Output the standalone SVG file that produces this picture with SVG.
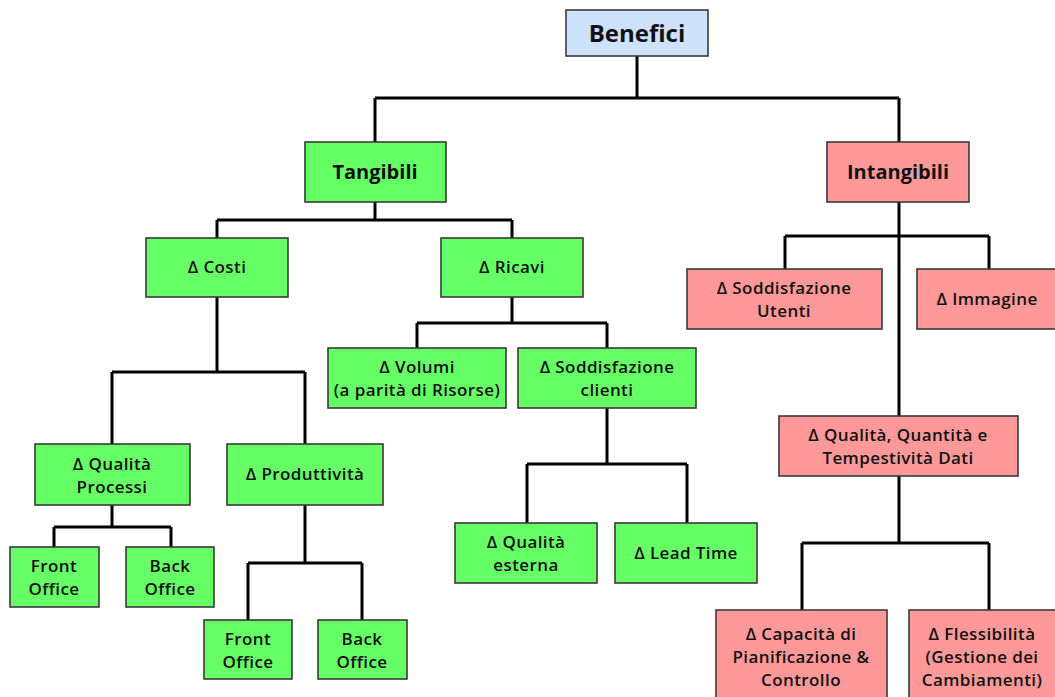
<svg xmlns="http://www.w3.org/2000/svg" width="1055" height="697" viewBox="0 0 1055 697">
  <style>
    .box { stroke: #3a3a3a; stroke-width: 1.6; }
    .root { fill: #cfe2fc; }
    .tan { fill: #66ff66; }
    .int { fill: #ff9999; }
    text { font-family: "Open Sans", "DejaVu Sans", sans-serif; font-weight: 600; fill: #111; text-anchor: middle; font-size: 17px; letter-spacing: 0.4px; }
    .big { font-size: 24px; font-weight: 700; letter-spacing: 0; }
    .mid { font-size: 20px; font-weight: 700; letter-spacing: 0; }
    .links { fill: none; stroke: #000; stroke-width: 3; stroke-linejoin: miter; }
  </style>
  <rect width="1055" height="697" fill="#ffffff"/>

  <!-- connectors -->
  <g id="connectors" class="links">
    <path d="M637 56 V98 M375 98 H899 M375 98 V142 M899 98 V142"/>
    <path d="M375 202 V220 M217 220 H512 M217 220 V238 M512 220 V238"/>
    <path d="M217 297 V372 M112 372 H305 M112 372 V444 M305 372 V444"/>
    <path d="M112 505 V527 M54 527 H171 M54 527 V547 M171 527 V547"/>
    <path d="M305 505 V563 M248 563 H362 M248 563 V620 M362 563 V620"/>
    <path d="M512 297 V323 M417 323 H607 M417 323 V348 M607 323 V348"/>
    <path d="M607 408 V464 M527 464 H687 M527 464 V523 M687 464 V523"/>
    <path d="M899 202 V416 M785 236 H989 M785 236 V269 M989 236 V269"/>
    <path d="M899 476 V543 M802 543 H989 M802 543 V610 M989 543 V610"/>
  </g>

  <g id="benefici">
    <rect class="box root" x="566" y="10" width="142" height="46"/>
    <text class="big" x="637" y="42">Benefici</text>
  </g>

  <g id="tangibili">
    <rect class="box tan" x="305" y="142" width="141" height="60"/>
    <text class="mid" x="375" y="179">Tangibili</text>
  </g>

  <g id="intangibili">
    <rect class="box int" x="827" y="142" width="142" height="60"/>
    <text class="mid" x="898" y="179">Intangibili</text>
  </g>

  <g id="costi">
    <rect class="box tan" x="146" y="238" width="142" height="59"/>
    <text x="217" y="273">Δ Costi</text>
  </g>

  <g id="ricavi">
    <rect class="box tan" x="441" y="238" width="142" height="59"/>
    <text x="512" y="273">Δ Ricavi</text>
  </g>

  <g id="qualita-processi">
    <rect class="box tan" x="35" y="444" width="155" height="61"/>
    <text x="112" y="470">Δ Qualità</text>
    <text x="112" y="493">Processi</text>
  </g>

  <g id="produttivita">
    <rect class="box tan" x="227" y="444" width="156" height="61"/>
    <text x="305" y="480">Δ Produttività</text>
  </g>

  <g id="front-office-1">
    <rect class="box tan" x="10" y="547" width="89" height="60"/>
    <text x="54" y="572">Front</text>
    <text x="54" y="595">Office</text>
  </g>

  <g id="back-office-1">
    <rect class="box tan" x="126" y="547" width="88" height="60"/>
    <text x="170" y="572">Back</text>
    <text x="170" y="595">Office</text>
  </g>

  <g id="front-office-2">
    <rect class="box tan" x="204" y="620" width="88" height="59"/>
    <text x="248" y="645">Front</text>
    <text x="248" y="668">Office</text>
  </g>

  <g id="back-office-2">
    <rect class="box tan" x="318" y="620" width="89" height="59"/>
    <text x="362" y="645">Back</text>
    <text x="362" y="668">Office</text>
  </g>

  <g id="volumi">
    <rect class="box tan" x="328" y="348" width="178" height="60"/>
    <text x="417" y="373">Δ Volumi</text>
    <text x="417" y="396">(a parità di Risorse)</text>
  </g>

  <g id="soddisfazione-clienti">
    <rect class="box tan" x="518" y="348" width="178" height="60"/>
    <text x="607" y="373">Δ Soddisfazione</text>
    <text x="607" y="396">clienti</text>
  </g>

  <g id="qualita-esterna">
    <rect class="box tan" x="455" y="523" width="142" height="60"/>
    <text x="526" y="548">Δ Qualità</text>
    <text x="526" y="571">esterna</text>
  </g>

  <g id="lead-time">
    <rect class="box tan" x="615" y="523" width="142" height="60"/>
    <text x="686" y="559">Δ Lead Time</text>
  </g>

  <g id="soddisfazione-utenti">
    <rect class="box int" x="687" y="269" width="195" height="60"/>
    <text x="784" y="294">Δ Soddisfazione</text>
    <text x="784" y="317">Utenti</text>
  </g>

  <g id="immagine">
    <rect class="box int" x="917" y="269" width="140" height="60"/>
    <text x="987" y="305">Δ Immagine</text>
  </g>

  <g id="qualita-dati">
    <rect class="box int" x="779" y="416" width="239" height="60"/>
    <text x="898" y="441">Δ Qualità, Quantità e</text>
    <text x="898" y="464">Tempestività Dati</text>
  </g>

  <g id="capacita">
    <rect class="box int" x="716" y="610" width="171" height="95"/>
    <text x="801" y="640">Δ Capacità di</text>
    <text x="801" y="663">Pianificazione &amp;</text>
    <text x="801" y="686">Controllo</text>
  </g>

  <g id="flessibilita">
    <rect class="box int" x="909" y="610" width="150" height="95"/>
    <text x="982" y="640">Δ Flessibilità</text>
    <text x="982" y="663">(Gestione dei</text>
    <text x="982" y="686">Cambiamenti)</text>
  </g>
</svg>
